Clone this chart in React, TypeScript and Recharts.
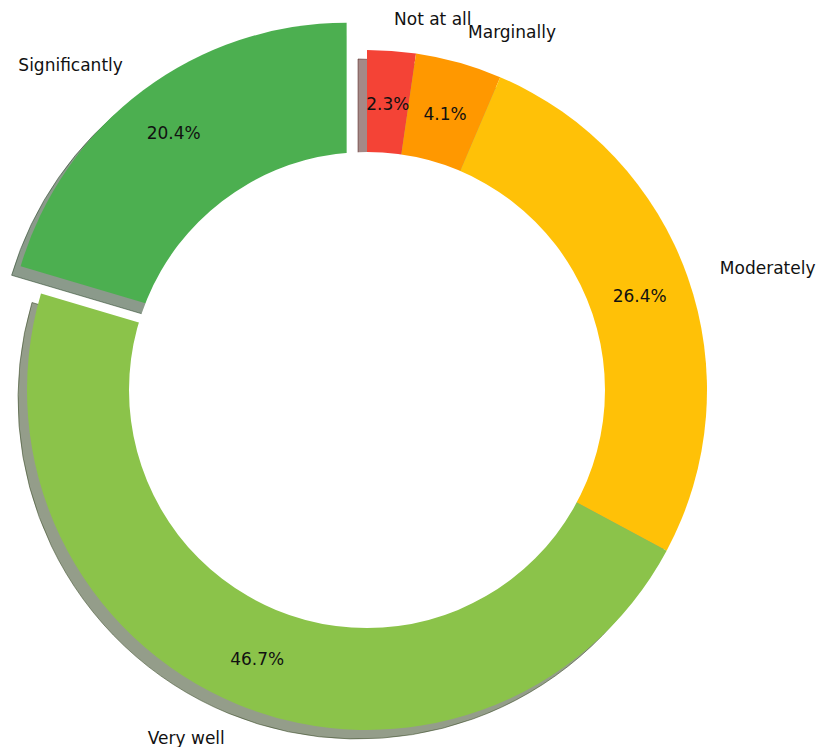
import React from 'react';
import { PieChart, Pie, Cell } from 'recharts';

const categories = ['Not at all', 'Marginally', 'Moderately', 'Very well', 'Significantly'];
const values = [2.3, 4.1, 26.4, 46.7, 20.4];
const colors = ['#F44336', '#FF9800', '#FFC107', '#8BC34A', '#4CAF50'];
const explode = [0, 0, 0, 0, 0.1];

const W = 832;
const H = 747;
const CX = 367;
const CY = 390;
const R = 340;
const HOLE = R * 0.7;
const SHADOW_DX = -9;
const SHADOW_DY = 9;
const START = 90;
const END = -270;
const RAD = Math.PI / 180;
const TEXT_DY = 2;

const data = categories.map((name, i) => ({ name, value: values[i] }));
const holeData = [{ name: 'hole', value: 1 }];
const total = values.reduce((a, b) => a + b, 0);

function computedMid(i: number) {
  const cum = values.slice(0, i).reduce((a, b) => a + b, 0);
  return START - ((cum + values[i] / 2) / total) * 360;
}

function shadowColor(hex: string) {
  const r = parseInt(hex.slice(1, 3), 16);
  const g = parseInt(hex.slice(3, 5), 16);
  const b = parseInt(hex.slice(5, 7), 16);
  return `rgb(${Math.round(r * 0.3)},${Math.round(g * 0.3)},${Math.round(b * 0.3)})`;
}

type Group = { visible: Set<number>; dx: number; dy: number };

const groups: Group[] = [];
const base = new Set<number>();
values.forEach((_, i) => {
  if (explode[i] > 0) {
    const m = computedMid(i);
    groups.push({
      visible: new Set([i]),
      dx: explode[i] * R * Math.cos(m * RAD),
      dy: -explode[i] * R * Math.sin(m * RAD),
    });
  } else {
    base.add(i);
  }
});
groups.unshift({ visible: base, dx: 0, dy: 0 });

const textStyle = { fontFamily: 'DejaVu Sans, sans-serif', fontSize: 17, fill: '#111' };

function makeLabel(g: Group) {
  const cx = CX + g.dx;
  const cy = CY + g.dy;
  return (props: any) => {
    const i = props.index;
    if (!g.visible.has(i)) return <g />;
    const mid = typeof props.midAngle === 'number' ? props.midAngle : computedMid(i);
    const c = Math.cos(mid * RAD);
    const s = -Math.sin(mid * RAD);
    const lx = cx + 1.1 * R * c;
    const ly = cy + 1.1 * R * s + TEXT_DY;
    const px = cx + 0.85 * R * c;
    const py = cy + 0.85 * R * s + TEXT_DY;
    const pct = (props.percent * 100).toFixed(1) + '%';
    return (
      <g>
        <text x={lx} y={ly} textAnchor={c > 0 ? 'start' : 'end'} dominantBaseline="central" style={textStyle}>
          {props.name}
        </text>
        <text x={px} y={py} textAnchor="middle" dominantBaseline="central" style={textStyle}>
          {pct}
        </text>
      </g>
    );
  };
}

export default function App() {
  return (
    <div style={{ position: 'absolute', left: 0, top: 0, width: W, height: H, background: '#fff' }}>
      <PieChart width={W} height={H} margin={{ top: 0, right: 0, bottom: 0, left: 0 }}>
        {groups.map((g, gi) => (
          <Pie
            key={'shadow' + gi}
            data={data}
            dataKey="value"
            nameKey="name"
            cx={CX + g.dx + SHADOW_DX}
            cy={CY + g.dy + SHADOW_DY}
            innerRadius={0}
            outerRadius={R}
            startAngle={START}
            endAngle={END}
            isAnimationActive={false}
            stroke="none"
            label={false}
            labelLine={false}
          >
            {data.map((_, i) => (
              <Cell
                key={i}
                fill={g.visible.has(i) ? shadowColor(colors[i]) : 'none'}
                fillOpacity={0.5}
                stroke={g.visible.has(i) ? shadowColor(colors[i]) : 'none'}
                strokeOpacity={0.5}
                strokeWidth={1}
              />
            ))}
          </Pie>
        ))}
        {groups.map((g, gi) => (
          <Pie
            key={'main' + gi}
            data={data}
            dataKey="value"
            nameKey="name"
            cx={CX + g.dx}
            cy={CY + g.dy}
            innerRadius={0}
            outerRadius={R}
            startAngle={START}
            endAngle={END}
            isAnimationActive={false}
            stroke="none"
            label={false}
            labelLine={false}
          >
            {data.map((_, i) => (
              <Cell key={i} fill={g.visible.has(i) ? colors[i] : 'none'} stroke="none" />
            ))}
          </Pie>
        ))}
        <Pie
          data={holeData}
          dataKey="value"
          cx={CX}
          cy={CY}
          innerRadius={0}
          outerRadius={HOLE}
          startAngle={START}
          endAngle={END}
          isAnimationActive={false}
          stroke="none"
          fill="#ffffff"
          label={false}
          labelLine={false}
        />
        {groups.map((g, gi) => (
          <Pie
            key={'labels' + gi}
            data={data}
            dataKey="value"
            nameKey="name"
            cx={CX + g.dx}
            cy={CY + g.dy}
            innerRadius={0}
            outerRadius={R}
            startAngle={START}
            endAngle={END}
            isAnimationActive={false}
            stroke="none"
            fill="none"
            label={makeLabel(g)}
            labelLine={false}
          >
            {data.map((_, i) => (
              <Cell key={i} fill="none" stroke="none" />
            ))}
          </Pie>
        ))}
      </PieChart>
    </div>
  );
}
